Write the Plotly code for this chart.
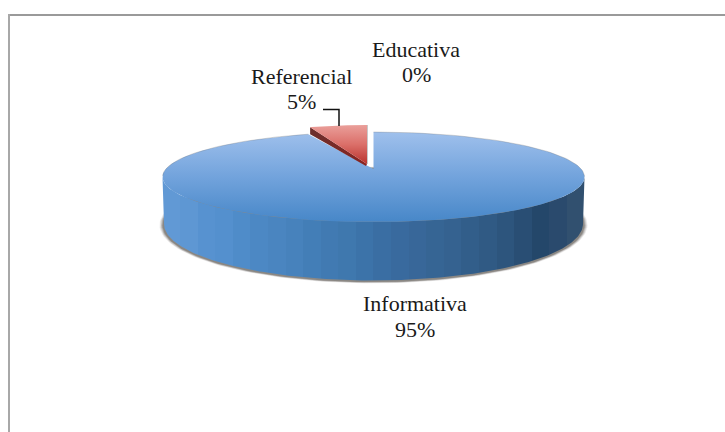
import numpy as np
import plotly.graph_objects as go

# chart values
categorias = ["Informativa", "Referencial", "Educativa"]
valores = [95, 5, 0]
porcentajes = [95, 5, 0]

# colour readings
top_azul = [[0, "#9fc0ec"], [0.5, "#72a3dc"], [1, "#4787c8"]]
bandas_pared = ["#6199d5", "#5e97d3", "#5792d0", "#5490ce", "#4f8cc9", "#4c88c4", "#4a85c0", "#4782bc",
                "#437eb7", "#417ab2", "#3f78ae", "#3c73a9", "#3a6ea3", "#396a9e", "#386799", "#366594",
                "#356290", "#325e8a", "#305a84", "#2d557d", "#294e74", "#24476a", "#2a4a6d", "#31506f"]
top_rojo = [[0, "#ea9f9a"], [0.5, "#db6f69"], [1, "#b9332e"]]
lado_rojo = [[0, "#6b2f2d"], [1, "#8a2320"]]

# projection of the pie, in page pixels
cx, cy, a, b = 373.5, 177, 211, 45
apex_y = 169
# lower rim of the wall (perspective makes it rounder)
cy2, a2, b2 = 224, 209.5, 56.5
# pulled slice is a little smaller
rx, ry, ra, rb, rapex = 367, 170, 184, 45, 164

total = sum(valores)
cortes = np.cumsum([0] + valores) / total * 360

n = len(bandas_pared)
pared_azul = []
for i, c in enumerate(bandas_pared):
    pared_azul += [[i / n, c], [(i + 1) / n, c]]


def borde(x0, y0, ra_, rb_, ini, fin):
    t = np.radians(np.linspace(ini, fin, 200))
    return x0 + ra_ * np.sin(t), y0 - rb_ * np.cos(t)


fig = go.Figure()


def relleno(x, y, **kw):
    fig.add_trace(go.Scatter(x=x, y=y, mode="lines", line=dict(width=0), fill="toself",
                             hoverinfo="skip", showlegend=False, **kw))


# soft shadow under the pie
for extra, alfa in [(4.5, 0.12), (3.5, 0.2), (2.5, 0.3), (1.5, 0.4)]:
    sx, sy = borde(cx, cy2 + 1, a2 + extra, b2 + extra * 0.4, 0, 360)
    relleno(sx, sy, fillcolor=f"rgba(90,85,80,{alfa})")

# side wall of the blue slice, front half only
ini, fin = max(cortes[0], 90), min(cortes[1], 270)
wx, wy = borde(cx, cy, a, b, ini, fin)
zx, zy = borde(cx, cy2, a2, b2, ini, fin)
relleno(np.r_[wx, zx[::-1]], np.r_[wy, zy[::-1]],
        fillgradient=dict(type="horizontal", colorscale=pared_azul, start=cx - a, stop=cx + a))

# top of the blue slice
tx, ty = borde(cx, cy, a, b, cortes[0], cortes[1])
relleno(np.r_[cx, tx, cx], np.r_[apex_y, ty, apex_y],
        fillgradient=dict(type="vertical", colorscale=top_azul, start=cy - b, stop=cy + b))
atras = ty < cy
fig.add_trace(go.Scatter(x=np.where(atras, tx, np.nan), y=np.where(atras, ty, np.nan), mode="lines",
                         line=dict(color="rgba(110,110,110,0.28)", width=1),
                         hoverinfo="skip", showlegend=False))

# red slice: cut face then top
qx, qy = borde(rx, ry, ra, rb, cortes[1], cortes[2])
relleno([rx, qx[0], qx[0], rx - 1], [rapex, qy[0], qy[0] + 7, rapex + 2],
        fillgradient=dict(type="horizontal", colorscale=lado_rojo, start=qx[0], stop=rx))
relleno(np.r_[rx, qx, rx], np.r_[rapex, qy, rapex],
        fillgradient=dict(type="vertical", colorscale=top_rojo, start=ry - rb, stop=rapex))
fig.add_trace(go.Scatter(x=[rx + 0.5, rx + 0.5], y=[ry - rb, rapex], mode="lines",
                         line=dict(color="rgba(120,120,120,0.4)", width=1),
                         hoverinfo="skip", showlegend=False))

fuente = dict(family="Liberation Serif", size=22, color="#1a1a1a")
# centre x, first line y, second line y
posiciones = {"Informativa": (415, 303.5, 329), "Referencial": (301, 76, 101), "Educativa": (416, 49, 74)}
for nombre, pct in zip(categorias, porcentajes):
    px_, y1, y2 = posiciones[nombre]
    fig.add_annotation(x=px_, y=y1, xref="x", yref="y", text=nombre, showarrow=False, font=fuente)
    fig.add_annotation(x=px_, y=y2, xref="x", yref="y", text=f"{pct}%", showarrow=False, font=fuente)

# chart frame and leader line
fig.add_shape(type="line", x0=9, x1=725, y0=15, y1=15, xref="x", yref="y",
              line=dict(color="#9a9a9a", width=2))
fig.add_shape(type="line", x0=9, x1=9, y0=14, y1=432, xref="x", yref="y",
              line=dict(color="#a8a8a8", width=2))
fig.add_shape(type="path", path="M 323 109.5 L 339 109.5 L 339 126", xref="x", yref="y",
              line=dict(color="#111111", width=1.5))

fig.update_layout(
    width=725, height=432,
    margin=dict(l=0, r=0, t=0, b=0),
    paper_bgcolor="white", plot_bgcolor="white",
    xaxis=dict(range=[0, 725], visible=False, fixedrange=True),
    yaxis=dict(range=[432, 0], visible=False, fixedrange=True),
)
fig.write_html("out.html", config=dict(displayModeBar=False),
               post_script="document.body.style.margin = '0';")
